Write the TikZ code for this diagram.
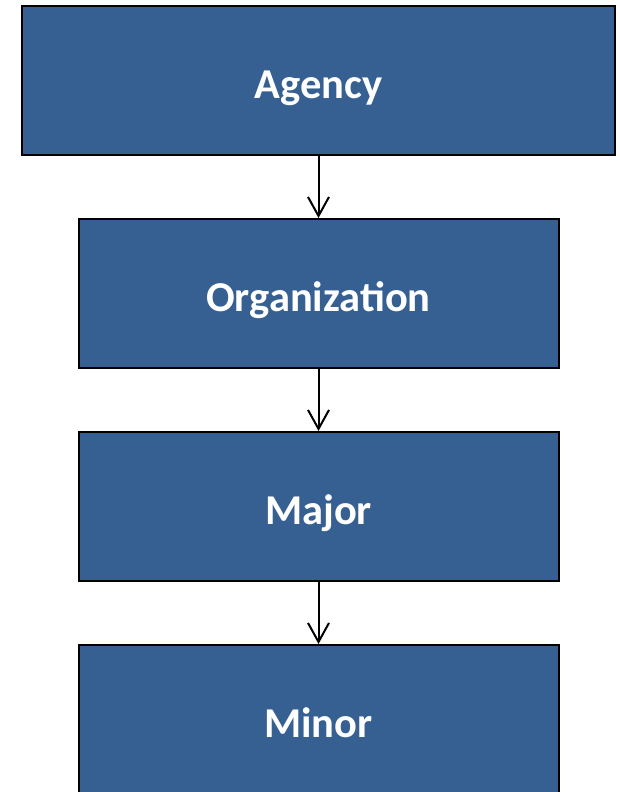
\documentclass[tikz,border=0pt]{standalone}
\usepackage{fontspec}
\setmainfont{Carlito}
\usetikzlibrary{positioning, arrows.meta}

\definecolor{boxblue}{RGB}{54,96,146}

\begin{document}
\begin{tikzpicture}[
node distance=62pt,
every node/.style={
draw=black,
rectangle,
line width=2pt,
fill=boxblue,
minimum height=149pt,
minimum width=480pt,
text height=36pt,
text depth=0pt,
align=center,
font=\fontsize{42.5}{50}\selectfont\bfseries,
text=white
}
]
\useasboundingbox (0,0) rectangle (619pt,-792pt);
\clip (0,0) rectangle (619pt,-792pt);
\node[minimum width=593pt] (agency) at (318.5pt,-80.5pt) {Agency};
\node[below=of agency] (org) {Organization};
\node[below=of org] (major) {Major};
\node[below=of major] (minor) {Minor};
\foreach \i/\j in {agency/org, org/major, major/minor}
\draw[-{Straight Barb[length=19pt, width=21pt]}, line width=2pt] (\i) -- (\j);
\end{tikzpicture}
\end{document}
